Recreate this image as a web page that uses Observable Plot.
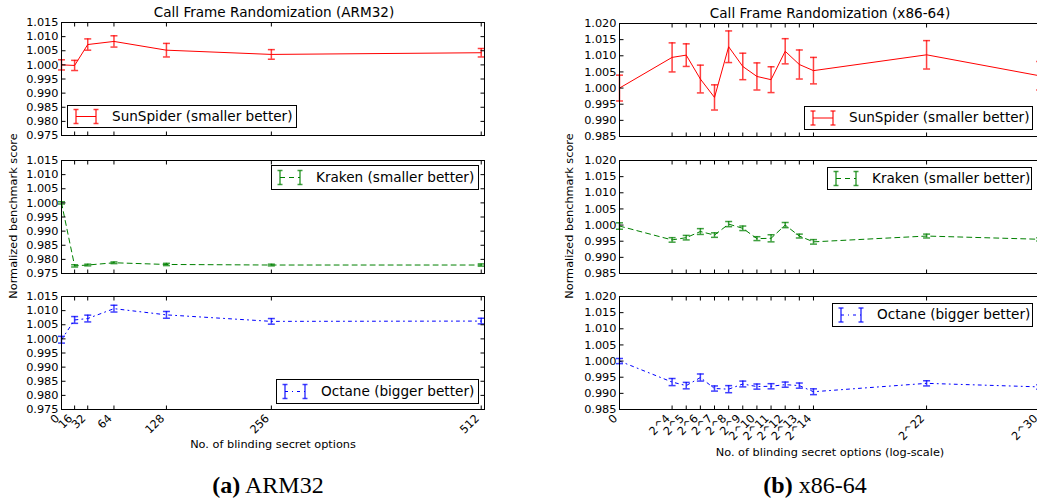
<!DOCTYPE html>
<html>
<head>
<meta charset="utf-8">
<script src="https://cdn.jsdelivr.net/npm/d3@7"></script>
<script src="https://cdn.jsdelivr.net/npm/@observablehq/plot@0.6"></script>
<style>
html, body { margin: 0; padding: 0; background: #fff; overflow: hidden; }
#fig { position: relative; width: 1037px; height: 500px; overflow: hidden; font-family: "DejaVu Sans", sans-serif; color: #000; }
.t { position: absolute; white-space: nowrap; line-height: 1; transform: translate(-50%, -50%); }
.cap { font-family: "Liberation Serif", "Times New Roman", serif; font-size: 24px; }
.leg { position: absolute; border: 1px solid #000; background: #fff; box-sizing: border-box; }
.leg span { position: absolute; top: 50%; transform: translateY(-50%); font-size: 13.6px; line-height: 1; white-space: nowrap; }
.leg svg { position: absolute; left: 0; top: 0; overflow: visible; }
</style>
</head>
<body>
<div id="fig"></div>
<script>
// ---------- DATA ----------
// (a) ARM32
const armX = [0, 16, 32, 64, 128, 256, 512];
const armXLabels = ["0", "16", "32", "64", "128", "256", "512"];
const armYTicks = [0.975, 0.980, 0.985, 0.990, 0.995, 1.000, 1.005, 1.010, 1.015];
const armSunSpider    = [1.0000, 0.9998, 1.0072, 1.0083, 1.0052, 1.0037, 1.0043];
const armSunSpiderErr = [0.0018, 0.0018, 0.0020, 0.0020, 0.0024, 0.0017, 0.0015];
const armKraken       = [1.0000, 0.9777, 0.9780, 0.9788, 0.9782, 0.9780, 0.9780];
const armKrakenErr    = [0.0004, 0.0004, 0.0003, 0.0003, 0.0004, 0.0003, 0.0004];
const armOctane       = [0.9997, 1.0067, 1.0072, 1.0107, 1.0085, 1.0062, 1.0063];
const armOctaneErr    = [0.0012, 0.0012, 0.0012, 0.0012, 0.0012, 0.0010, 0.0010];

// (b) x86-64 (x position = log2 of option count; "0" sits at the axis start)
const x86Pos = [0.28, 4, 5, 6, 7, 8, 9, 10, 11, 12, 13, 14, 22, 30];
const x86XLabels = ["0", "2^4", "2^5", "2^6", "2^7", "2^8", "2^9", "2^10", "2^11", "2^12", "2^13", "2^14", "2^22", "2^30"];
const x86YTicks = [0.985, 0.990, 0.995, 1.000, 1.005, 1.010, 1.015, 1.020];
const x86SunSpider    = [1.0000, 1.0095, 1.0102, 1.0028, 0.9971, 1.0128, 1.0067, 1.0036, 1.0026, 1.0114, 1.0073, 1.0054, 1.0103, 1.0038];
const x86SunSpiderErr = [0.0040, 0.0045, 0.0035, 0.0043, 0.0039, 0.0049, 0.0041, 0.0042, 0.0040, 0.0039, 0.0045, 0.0041, 0.0044, 0.0044];
const x86Kraken       = [0.9997, 0.9954, 0.9961, 0.9980, 0.9969, 1.0003, 0.9990, 0.9958, 0.9959, 1.0000, 0.9966, 0.9948, 0.9966, 0.9956];
const x86KrakenErr    = [0.0010, 0.0007, 0.0007, 0.0009, 0.0007, 0.0008, 0.0007, 0.0006, 0.0011, 0.0008, 0.0006, 0.0007, 0.0006, 0.0005];
const x86Octane       = [1.0000, 0.9935, 0.9924, 0.9949, 0.9915, 0.9913, 0.9929, 0.9921, 0.9922, 0.9927, 0.9924, 0.9905, 0.9931, 0.9920];
const x86OctaneErr    = [0.0008, 0.0011, 0.0010, 0.0011, 0.0008, 0.0011, 0.0009, 0.0008, 0.0008, 0.0008, 0.0008, 0.0009, 0.0008, 0.0007];

const seriesNames = ["SunSpider (smaller better)", "Kraken (smaller better)", "Octane (bigger better)"];
const seriesColors = ["#ff0000", "#008000", "#0000ff"];
const seriesDash = [null, "5,4", "3,4,1,4"];

// ---------- HELPERS ----------
const FIG = document.getElementById("fig");
const capSym = {draw(ctx, size) { const r = Math.sqrt(size / Math.PI); ctx.moveTo(-r, 0); ctx.lineTo(r, 0); }};
const tickSym = (dx, dy) => ({draw(ctx, size) { const r = Math.sqrt(size / Math.PI); ctx.moveTo(0, 0); ctx.lineTo(dx * r, dy * r); }});
const ML = 50, MR = 12, MT = 6;

function subplot({xs, ys, errs, xDomain, yDomain, yTicks, xTicks, xLabels, showX, color, dash, left, top, w, h}) {
  const data = xs.map((x, i) => ({x, y: ys[i], lo: ys[i] - errs[i], hi: ys[i] + errs[i]}));
  const mb = showX ? 48 : 6;
  const labelOf = new Map(xTicks.map((t, i) => [t, xLabels[i]]));
  const ebar = {stroke: color, strokeWidth: 1.5, strokeOpacity: 0.75};
  const tk = {r: 4, stroke: "#000", fill: "none", strokeWidth: 1};
  const marks = [
    Plot.ruleX(data, {x: "x", y1: "lo", y2: "hi", ...ebar}),
    Plot.dot(data, {x: "x", y: "lo", symbol: capSym, r: 3.5, fill: "none", ...ebar}),
    Plot.dot(data, {x: "x", y: "hi", symbol: capSym, r: 3.5, fill: "none", ...ebar}),
    Plot.line(data, {x: "x", y: "y", stroke: color, strokeWidth: 1, strokeDasharray: dash}),
    Plot.dot(yTicks, {x: () => xDomain[0], y: d => d, symbol: tickSym(1, 0), ...tk}),
    Plot.dot(yTicks, {x: () => xDomain[1], y: d => d, symbol: tickSym(-1, 0), ...tk}),
    Plot.dot(xTicks, {x: d => d, y: () => yDomain[0], symbol: tickSym(0, -1), ...tk}),
    Plot.dot(xTicks, {x: d => d, y: () => yDomain[1], symbol: tickSym(0, 1), ...tk}),
    Plot.axisY({ticks: yTicks, tickSize: 0, tickPadding: 3, tickFormat: d3.format(".3f"), label: null}),
    Plot.frame({stroke: "#000", strokeWidth: 1})
  ];
  if (showX) marks.push(Plot.axisX({ticks: xTicks, tickSize: 0, tickRotate: -45, tickFormat: d => labelOf.get(d),
    textAnchor: "end", lineAnchor: "middle", dx: -4, tickPadding: 7, label: null}));
  const svg = Plot.plot({
    width: w + ML + MR, height: h + MT + mb,
    marginLeft: ML, marginRight: MR, marginTop: MT, marginBottom: mb,
    style: {fontFamily: "DejaVu Sans", fontSize: "11.3px", color: "#000", background: "transparent", overflow: "visible"},
    x: {type: "linear", domain: xDomain, label: null, ...(showX ? {} : {axis: null})},
    y: {type: "linear", domain: yDomain, label: null},
    marks
  });
  svg.style.position = "absolute";
  svg.style.left = (left - ML) + "px";
  svg.style.top = (top - MT) + "px";
  FIG.appendChild(svg);
}

function legend({left, top, width, height, color, dash, label}) {
  const div = document.createElement("div");
  div.className = "leg";
  div.style.left = left + "px"; div.style.top = top + "px";
  div.style.width = width + "px"; div.style.height = height + "px";
  const mid = height / 2 - 1;
  const a = 8, b = 28;
  div.innerHTML = `<svg width="${width}" height="${height}">
    <g stroke="${color}" stroke-opacity="0.75" stroke-width="1.5" fill="none">
      <line x1="${a}" x2="${a}" y1="${mid - 7}" y2="${mid + 7}"/><line x1="${a - 2.5}" x2="${a + 2.5}" y1="${mid - 7}" y2="${mid - 7}"/><line x1="${a - 2.5}" x2="${a + 2.5}" y1="${mid + 7}" y2="${mid + 7}"/>
      <line x1="${b}" x2="${b}" y1="${mid - 7}" y2="${mid + 7}"/><line x1="${b - 2.5}" x2="${b + 2.5}" y1="${mid - 7}" y2="${mid - 7}"/><line x1="${b - 2.5}" x2="${b + 2.5}" y1="${mid + 7}" y2="${mid + 7}"/>
    </g>
    <line x1="${a}" x2="${b}" y1="${mid}" y2="${mid}" stroke="${color}" stroke-width="1" ${dash ? `stroke-dasharray="${dash}"` : ""}/>
  </svg><span style="left:44px">${label}</span>`;
  FIG.appendChild(div);
}

function text(x, y, str, extra = "", cls = "t") {
  const s = document.createElement("div");
  s.className = cls;
  s.style.left = x + "px"; s.style.top = y + "px";
  s.style.cssText += extra;
  s.innerHTML = str;
  FIG.appendChild(s);
}

// ---------- PANEL (a) ARM32 ----------
const armFrames = [{top: 22, h: 113}, {top: 159.5, h: 113}, {top: 296, h: 113}];
const armSeries = [[armSunSpider, armSunSpiderErr], [armKraken, armKrakenErr], [armOctane, armOctaneErr]];
armSeries.forEach(([ys, errs], k) => subplot({
  xs: armX, ys, errs, xDomain: [0, 516], yDomain: [0.975, 1.015], yTicks: armYTicks,
  xTicks: armX, xLabels: armXLabels, showX: k === 2, color: seriesColors[k], dash: seriesDash[k],
  left: 61, top: armFrames[k].top, w: 423, h: armFrames[k].h
}));

// ---------- PANEL (b) x86-64 ----------
const x86Frames = [{top: 23, h: 113}, {top: 159.5, h: 113}, {top: 296, h: 113}];
const x86Series = [[x86SunSpider, x86SunSpiderErr], [x86Kraken, x86KrakenErr], [x86Octane, x86OctaneErr]];
x86Series.forEach(([ys, errs], k) => subplot({
  xs: x86Pos, ys, errs, xDomain: [0.28, 30.2], yDomain: [0.985, 1.020], yTicks: x86YTicks,
  xTicks: x86Pos, xLabels: x86XLabels, showX: k === 2, color: seriesColors[k], dash: seriesDash[k],
  left: 619, top: x86Frames[k].top, w: 423, h: x86Frames[k].h
}));

// ---------- LEGENDS ----------
legend({left: 67, top: 105, width: 230, height: 23, color: seriesColors[0], dash: seriesDash[0], label: seriesNames[0]});
legend({left: 271, top: 165, width: 208, height: 25, color: seriesColors[1], dash: seriesDash[1], label: seriesNames[1]});
legend({left: 276, top: 379, width: 203, height: 25, color: seriesColors[2], dash: seriesDash[2], label: seriesNames[2]});
legend({left: 804, top: 106, width: 229, height: 24, color: seriesColors[0], dash: seriesDash[0], label: seriesNames[0]});
legend({left: 827, top: 167, width: 205, height: 23, color: seriesColors[1], dash: seriesDash[1], label: seriesNames[1]});
legend({left: 832, top: 303, width: 201, height: 24, color: seriesColors[2], dash: seriesDash[2], label: seriesNames[2]});

// ---------- TEXT ----------
text(274, 12.5, "Call Frame Randomization (ARM32)", "font-size:13.6px;");
text(830, 13.7, "Call Frame Randomization (x86-64)", "font-size:13.6px;");
text(14, 216, "Normalized benchmark score", "font-size:11.3px;transform:translate(-50%,-50%) rotate(-90deg);");
text(570, 216, "Normalized benchmark score", "font-size:11.3px;transform:translate(-50%,-50%) rotate(-90deg);");
text(273, 445, "No. of blinding secret options", "font-size:11.3px;");
text(830, 452.7, "No. of blinding secret options (log-scale)", "font-size:11.3px;");
text(268, 485, "<b>(a)</b> ARM32", "", "t cap");
text(815, 485, "<b>(b)</b> x86-64", "", "t cap");
</script>
</body>
</html>
